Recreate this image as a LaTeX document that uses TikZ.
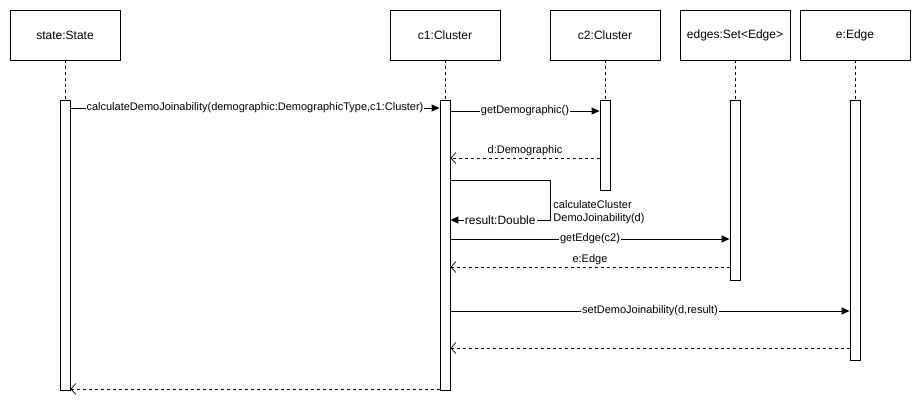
\documentclass[tikz,border=0pt]{standalone}
\usepackage{fontspec}
\setmainfont{Liberation Sans}
\usetikzlibrary{arrows.meta}
\begin{document}
\begin{tikzpicture}[x=1pt,y=-1pt,line width=0.9pt,
  head/.style={draw,minimum width=110pt,minimum height=50pt,inner sep=0pt,font=\fontsize{12}{14}\selectfont},
  act/.style={draw,fill=white,minimum width=10pt,inner sep=0pt},
  life/.style={line width=0.8pt,dash pattern=on 3pt off 3pt},
  msg/.style={-{Triangle[length=8pt,width=7pt]}},
  ret/.style={dash pattern=on 3pt off 3pt,-{Straight Barb[length=5pt,width=11pt,line width=0.7pt]}},
  lbl/.style={font=\fontsize{11}{13}\selectfont,fill=white,inner sep=1pt},
  lblt/.style={font=\fontsize{11}{13}\selectfont,inner sep=1pt}]
\useasboundingbox (0,0) rectangle (921,410);
% heads
\node[head] (h1) at (65,35) {state:State};
\node[head] (h2) at (445,35) {c1:Cluster};
\node[head] (h3) at (605,35) {c2:Cluster};
\node[head] (h4) at (735,35) {edges:Set<Edge>};
\node[head] (h5) at (855,35) {e:Edge};
% activations
\node[act,minimum height=290pt] (a1) at (65,245) {};
\node[act,minimum height=290pt] (a2) at (445,245) {};
\node[act,minimum height=90pt] (a3) at (605,145) {};
\node[act,minimum height=180pt] (a4) at (735,190) {};
\node[act,minimum height=260pt] (a5) at (855,230) {};
% lifelines
\draw[life] (h1.south) -- (a1.north);
\draw[life] (h2.south) -- (a2.north);
\draw[life] (h3.south) -- (a3.north);
\draw[life] (h4.south) -- (a4.north);
\draw[life] (h5.south) -- (a5.north);
% messages
\draw[msg] (a1.east|-0,108) -- node[lbl]{calculateDemoJoinability(demographic:DemographicType,c1:Cluster)} (a2.west|-0,108);
\draw[msg] (a2.east|-0,111) -- node[lbl]{getDemographic()} (a3.west|-0,111);
\draw[ret] (a3.west|-0,158) -- node[lblt,above=1pt]{d:Demographic} (a2.east|-0,158);
\coordinate (s1) at (550,180);
\coordinate (s2) at (550,220);
\draw[msg] (a2.east|-0,180) -- (s1) -- (s2) -- node[lbl,font=\fontsize{12}{14}\selectfont]{result:Double} (a2.east|-0,220);
\node[lblt,anchor=west,align=left] (sclbl) at (552,212.5) {calculateCluster\\DemoJoinability(d)};
\draw[msg] (a2.east|-0,239) -- node[lbl]{getEdge(c2)} (a4.west|-0,239);
\draw[ret] (a4.west|-0,267) -- node[lblt,above=1pt]{e:Edge} (a2.east|-0,267);
\draw[msg] (a2.east|-0,311) -- node[lbl]{setDemoJoinability(d,result)} (a5.west|-0,311);
\draw[ret] (a5.west|-0,348) -- (a2.east|-0,348);
\draw[ret] (a2.west|-0,389) -- (a1.east|-0,389);
\end{tikzpicture}
\end{document}
